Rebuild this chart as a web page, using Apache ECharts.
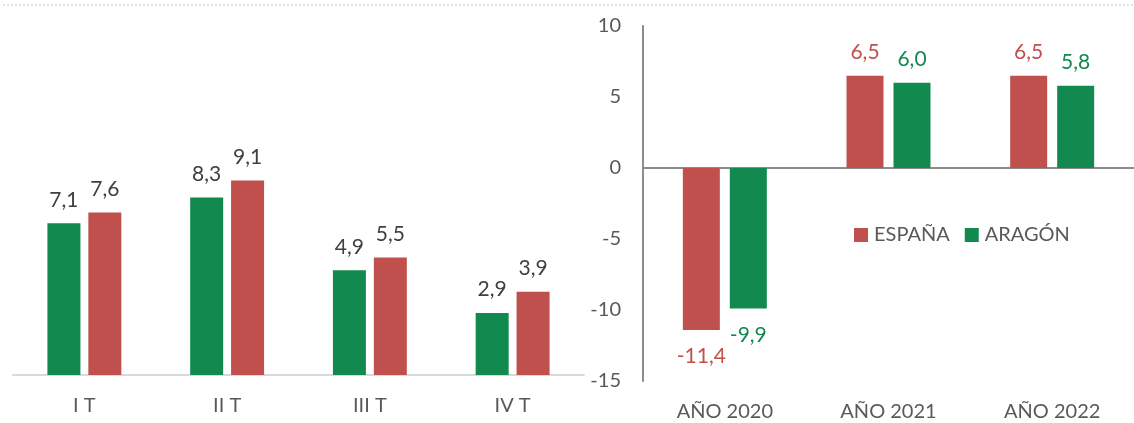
<!DOCTYPE html>
<html>
<head>
<meta charset="utf-8">
<script src="https://cdn.jsdelivr.net/npm/echarts@6/dist/echarts.min.js"></script>
<style>
  html, body { margin: 0; padding: 0; background: #fff; }
  #chart { width: 1134px; height: 423px; }
</style>
</head>
<body>
<div id="chart"></div>
<script>
// quarterly growth (left panel)
const quarters = ['I T', 'II T', 'III T', 'IV T'];
const aragonQ = [7.1, 8.3, 4.9, 2.9];
const espanaQ = [7.6, 9.1, 5.5, 3.9];

// annual growth (right panel)
const years = ['AÑO 2020', 'AÑO 2021', 'AÑO 2022'];
const espanaY = [-11.4, 6.5, 6.5];
const aragonY = [-9.9, 6.0, 5.8];

// right value axis ticks
const yMin = -15, yMax = 10, yStep = 5;

const RED = '#C0504D';
const GREEN = '#128A4F';
const FONT = 'Lato, "Noto Sans", sans-serif';

const fmt = v => v.toFixed(1).replace('.', ',');

// negative bars get their label under the bar
const withLabelSide = arr => arr.map(v => ({
  value: v,
  label: { position: v < 0 ? 'bottom' : 'top', distance: v < 0 ? 16 : 13 }
}));

const chart = echarts.init(document.getElementById('chart'));
chart.setOption({
  animation: false,
  textStyle: { fontFamily: FONT },
  graphic: [{
    type: 'line',
    shape: { x1: 3, y1: 5, x2: 1134, y2: 5 },
    style: { stroke: '#a9d6cf', lineWidth: 1, lineDash: [2, 2] }
  }],
  legend: {
    data: ['ESPAÑA', 'ARAGÓN'],
    left: 849, top: 220,
    itemWidth: 14, itemHeight: 14, itemGap: 15,
    icon: 'rect',
    textStyle: { fontFamily: FONT, fontSize: 20, color: '#595959', padding: [0, 0, 0, 1] }
  },
  grid: [
    { left: 13, top: 33, width: 571, height: 342 },
    { left: 643, top: 26, width: 498, height: 355 }
  ],
  xAxis: [
    {
      gridIndex: 0, type: 'category', data: quarters,
      axisLine: { lineStyle: { color: '#d9d9d9', width: 2 } },
      axisTick: { show: false },
      axisLabel: { color: '#595959', fontSize: 20, margin: 21, fontFamily: FONT }
    },
    {
      gridIndex: 1, type: 'category', data: years, position: 'bottom',
      axisLine: { show: false, onZero: false },
      axisTick: { show: false },
      axisLabel: { color: '#595959', fontSize: 20, margin: 21, fontFamily: FONT }
    },
    {
      gridIndex: 1, type: 'category', data: years, position: 'bottom',
      axisLine: { onZero: true, lineStyle: { color: '#8c8c8c', width: 2 } },
      axisTick: { show: false },
      axisLabel: { show: false }
    }
  ],
  yAxis: [
    { gridIndex: 0, type: 'value', min: 0, max: 16, show: false },
    {
      gridIndex: 1, type: 'value', min: yMin, max: yMax, interval: yStep,
      axisLine: { show: true, lineStyle: { color: '#8c8c8c', width: 2 } },
      axisTick: { show: false },
      splitLine: { show: false },
      axisLabel: { color: '#595959', fontSize: 20, margin: 22, fontFamily: FONT }
    }
  ],
  series: [
    {
      name: 'ARAGÓN', type: 'bar', xAxisIndex: 0, yAxisIndex: 0,
      data: aragonQ, barWidth: 33, barGap: '24%',
      itemStyle: { color: GREEN },
      label: { show: true, position: 'top', distance: 13, color: '#404040', fontSize: 21, fontFamily: FONT, formatter: p => fmt(p.value) }
    },
    {
      name: 'ESPAÑA', type: 'bar', xAxisIndex: 0, yAxisIndex: 0,
      data: espanaQ, barWidth: 33, barGap: '24%',
      itemStyle: { color: RED },
      label: { show: true, position: 'top', distance: 13, color: '#404040', fontSize: 21, fontFamily: FONT, formatter: p => fmt(p.value) }
    },
    {
      name: 'ESPAÑA', type: 'bar', xAxisIndex: 1, yAxisIndex: 1,
      data: withLabelSide(espanaY), barWidth: 37, barGap: '27%',
      itemStyle: { color: RED },
      label: { show: true, color: RED, fontSize: 21, fontFamily: FONT, formatter: p => fmt(p.value) }
    },
    {
      name: 'ARAGÓN', type: 'bar', xAxisIndex: 1, yAxisIndex: 1,
      data: withLabelSide(aragonY), barWidth: 37, barGap: '27%',
      itemStyle: { color: GREEN },
      label: { show: true, color: GREEN, fontSize: 21, fontFamily: FONT, formatter: p => fmt(p.value) }
    }
  ]
});
</script>
</body>
</html>
